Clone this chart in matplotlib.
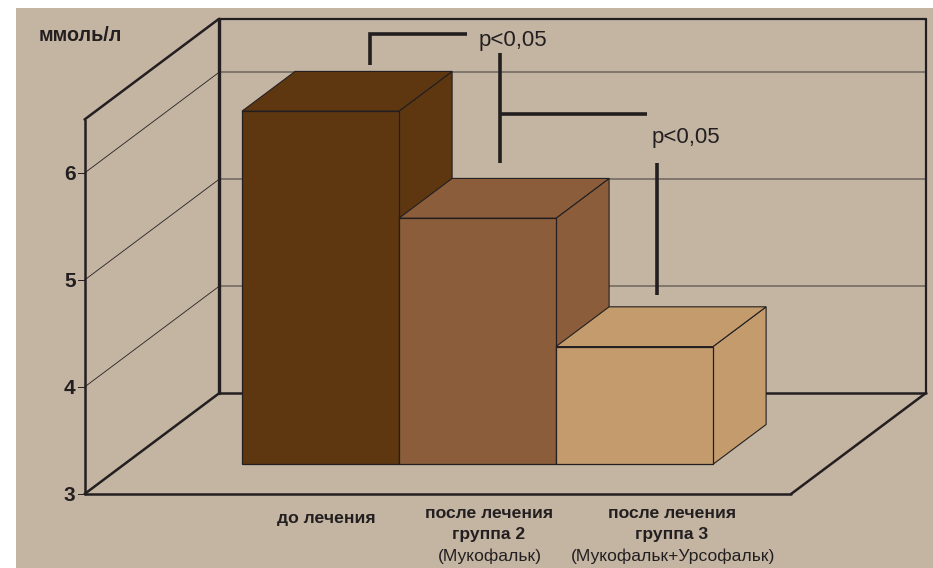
import matplotlib as mpl
mpl.use("Agg")
import matplotlib.pyplot as plt
from matplotlib.patches import Polygon, Rectangle

plt.rcParams['font.family'] = ['Liberation Sans', 'DejaVu Sans']

# values, mmol/l
values = [6.3, 5.3, 4.1]
positions = [0, 1, 2]
tick_values = [3, 4, 5, 6]
unit_label = "ммоль/л"
p_label = "p<0,05"
bold_labels = [["до лечения"], ["после лечения", "группа 2"], ["после лечения", "группа 3"]]
thin_labels = [None, "(Мукофальк)", "(Мукофальк+Урсофальк)"]
label_centers = [326, 489, 672]

bar_colors = ["#5E3711", "#8B5D3B", "#C39B6C"]
bg = "#C4B5A3"
ink = "#231F20"
grid = "#6E655C"

W, H = 933, 568
PX_X, PX_Y = 157.0, 107.0  # pixels per category / per mmol/l
DX, DY = 134.5 / PX_X, 100.7 / PX_Y  # full floor depth in data units
X_LEFT, X_RIGHT = -1.25, 3.25
Y_BASE, Y_TOP = 3.0, 6.5
BAR_FRONT, BAR_BACK = 0.295, 0.69  # depth of bars on the floor


def proj(x, v, d=0.0):
    # oblique projection: d=0 front edge of floor, d=1 back wall
    return x + d * DX, v + d * DY


def line3d(ax, a, b, lw, color=ink, z=2):
    p, q = proj(*a), proj(*b)
    ax.plot([p[0], q[0]], [p[1], q[1]], color=color, lw=lw, zorder=z, solid_capstyle='round')


fig = plt.figure(figsize=(W / 100, H / 100), dpi=100, facecolor="white")
ax = fig.add_axes([0, 0, 1, 1])
ax.set_xlim(-280.8 / PX_X, (W - 280.8) / PX_X)
ax.set_ylim(3 - (H - 494) / PX_Y, 3 + 494 / PX_Y)
ax.axis('off')

# same figure in plain pixels, for the brackets
ov = fig.add_axes([0, 0, 1, 1], zorder=5)
ov.set_xlim(0, W)
ov.set_ylim(H, 0)
ov.axis('off')
ov.patch.set_alpha(0)

ax.add_patch(Rectangle((16 / W, 0), 1, 1 - 8 / H, transform=ax.transAxes, facecolor=bg, edgecolor='none', zorder=0))

# grid on back and left walls
for v in tick_values[1:]:
    line3d(ax, (X_LEFT, v, 1), (X_RIGHT, v, 1), 1.1, grid, 1)
    line3d(ax, (X_LEFT, v, 0), (X_LEFT, v, 1), 0.6, ink, 1)

# frame
line3d(ax, (X_LEFT, Y_BASE, 0), (X_LEFT, Y_TOP, 0), 1.8)
line3d(ax, (X_LEFT, Y_TOP, 0), (X_LEFT, Y_TOP, 1), 1.8)
line3d(ax, (X_LEFT, Y_BASE, 0), (X_LEFT, Y_BASE, 1), 1.8)
line3d(ax, (X_LEFT, Y_BASE, 1), (X_LEFT, Y_TOP, 1), 2.4)
line3d(ax, (X_LEFT, Y_TOP, 1), (X_RIGHT, Y_TOP, 1), 1.6)
line3d(ax, (X_RIGHT, Y_TOP, 1), (X_RIGHT, Y_BASE, 1), 1.6)
line3d(ax, (X_LEFT, Y_BASE, 1), (X_RIGHT, Y_BASE, 1), 1.8)
line3d(ax, (X_RIGHT, Y_BASE, 1), (X_RIGHT, Y_BASE, 0), 1.8)
line3d(ax, (X_LEFT, Y_BASE, 0), (X_RIGHT, Y_BASE, 0), 1.8)

# bars: side and top faces first, then the front
for x, val, col in zip(positions, values, bar_colors):
    lo, hi = x - 0.5, x + 0.5
    z = 3 + x
    top = [proj(lo, val, BAR_FRONT), proj(hi, val, BAR_FRONT), proj(hi, val, BAR_BACK), proj(lo, val, BAR_BACK)]
    side = [proj(hi, Y_BASE, BAR_FRONT), proj(hi, val, BAR_FRONT), proj(hi, val, BAR_BACK), proj(hi, Y_BASE, BAR_BACK)]
    ax.add_patch(Polygon(side, facecolor=col, edgecolor=ink, lw=0.8, zorder=z, joinstyle='miter'))
    ax.add_patch(Polygon(top, facecolor=col, edgecolor=ink, lw=0.8, zorder=z, joinstyle='miter'))
    base = proj(x, Y_BASE, BAR_FRONT)[1]
    ax.bar(proj(x, 0, BAR_FRONT)[0], val - Y_BASE, width=1, bottom=base, color=col, edgecolor=ink, lw=0.9, zorder=z + 0.5)

# y ticks
for v in tick_values:
    ax.plot([X_LEFT - 7 / PX_X, X_LEFT], [v, v], color=ink, lw=0.7, zorder=2)
    ax.text(X_LEFT - 9 / PX_X, v - 1.5 / PX_Y, str(v), ha='right', va='center', fontsize=15, fontweight='bold', color=ink)

ov.text(38.5, 41, unit_label, ha='left', va='baseline', fontsize=14.2, fontweight='bold', color=ink)

# category labels under the floor
for cx, bold, thin in zip(label_centers, bold_labels, thin_labels):
    if thin is None:
        ov.text(cx, 522.5, bold[0], ha='center', va='baseline', fontsize=12.6, fontweight='bold', color=ink)
    else:
        ov.text(cx, 517.5, bold[0], ha='center', va='baseline', fontsize=12.6, fontweight='bold', color=ink)
        ov.text(cx, 539, bold[1], ha='center', va='baseline', fontsize=12.6, fontweight='bold', color=ink)
        ov.text(cx + 1, 560.5, thin, ha='center', va='baseline', fontsize=12.6, color=ink)

# significance brackets
lw_b = 2.6
ov.plot([370, 370, 467], [65, 34, 34], color=ink, lw=lw_b, solid_joinstyle='miter', solid_capstyle='butt')
ov.plot([500, 500], [53, 163], color=ink, lw=lw_b, solid_capstyle='butt')
ov.plot([500, 647], [113.5, 113.5], color=ink, lw=lw_b, solid_capstyle='butt')
ov.plot([657, 657], [163, 295], color=ink, lw=lw_b, solid_capstyle='butt')
ov.text(479, 46, p_label, ha='left', va='baseline', fontsize=16, color=ink)
ov.text(651.5, 143, p_label, ha='left', va='baseline', fontsize=16, color=ink)

fig.savefig("out.png", dpi=100)
